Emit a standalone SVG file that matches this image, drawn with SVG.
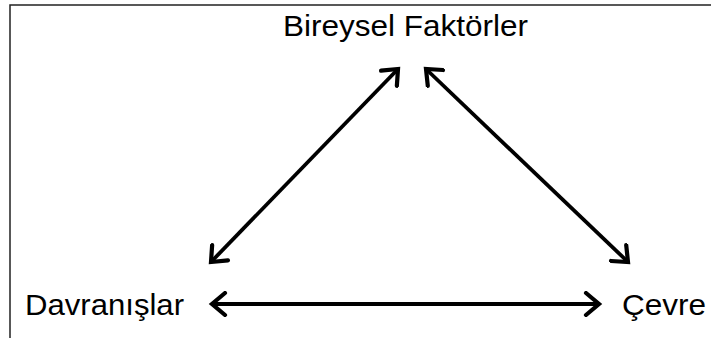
<svg xmlns="http://www.w3.org/2000/svg" width="711" height="338" viewBox="0 0 711 338">
  <style>
    .lbl { font-family: "Liberation Sans", Arial, sans-serif; font-size: 29px; fill: #000; }
    .conn { stroke: #000; stroke-width: 3.8; fill: none; marker-start: url(#head); marker-end: url(#head); }
    .frame { stroke: #222; stroke-width: 1.5; fill: none; }
  </style>
  <defs>
    <marker id="head" markerUnits="userSpaceOnUse" markerWidth="26" markerHeight="26" viewBox="-20 -13 24 26" refX="0" refY="0" orient="auto-start-reverse">
      <path d="M -13 -11 L 0 0 L -13 11" fill="none" stroke="#000" stroke-width="4.2" stroke-linecap="round" stroke-linejoin="miter"/>
    </marker>
  </defs>
  <rect width="711" height="338" fill="#fff"/>
  <path class="frame" d="M 10 338 L 10 5 L 711 5"/>
  <g id="connectors">
    <line class="conn" x1="211" y1="262" x2="398" y2="69"/>
    <line class="conn" x1="426" y1="69" x2="628" y2="262"/>
    <line class="conn" x1="212" y1="304" x2="599" y2="304"/>
  </g>
  <g id="bireysel">
    <text class="lbl" x="283" y="36" textLength="245" lengthAdjust="spacingAndGlyphs">Bireysel Faktörler</text>
  </g>
  <g id="davranislar">
    <text class="lbl" x="25" y="315" textLength="159" lengthAdjust="spacingAndGlyphs">Davranışlar</text>
  </g>
  <g id="cevre">
    <text class="lbl" x="622" y="315" textLength="84" lengthAdjust="spacingAndGlyphs">Çevre</text>
  </g>
</svg>
